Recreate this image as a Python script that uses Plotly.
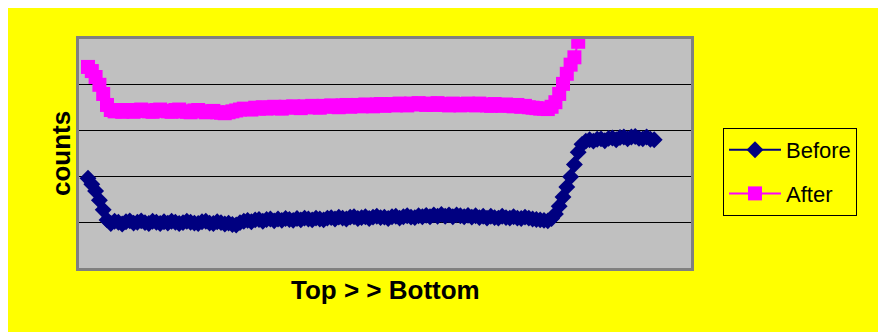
import plotly.graph_objects as go

# Sample position along the column, top to bottom
before_counts = [
    196, 183, 168, 148, 127, 105, 97, 102, 100, 96,
    101, 103, 98, 100, 103, 99, 97, 102, 100, 97,
    101, 98, 102, 100, 97, 99, 102, 100, 98, 97,
    101, 102, 98, 97, 101, 99, 96, 98, 95, 94,
    99, 102, 104, 101, 105, 106, 102, 106, 107, 103,
    107, 104, 108, 106, 104, 108, 105, 109, 107, 105,
    109, 107, 105, 109, 110, 107, 111, 109, 107, 111,
    112, 108, 110, 112, 108, 111, 113, 110, 111, 108,
    112, 113, 109, 112, 114, 111, 110, 114, 112, 115,
    112, 116, 113, 117, 113, 116, 112, 116, 114, 112,
    115, 111, 114, 110, 113, 109, 113, 110, 109, 113,
    110, 109, 112, 109, 108, 111, 109, 107, 106, 105,
    104, 103, 108, 118, 135, 155, 177, 199, 226, 253,
    270, 277, 280, 277, 281, 282, 278, 283, 284, 280,
    285, 286, 282, 286, 287, 283, 282, 286, 281, 280,
]

after_counts = [
    439, 430, 417, 400, 380, 356, 345, 342, 345, 341,
    344, 345, 341, 343, 346, 344, 342, 341, 345, 346,
    343, 342, 341, 345, 346, 342, 341, 340, 344, 345,
    342, 340, 341, 343, 340, 339, 338, 340, 342, 344,
    346, 348, 347, 346, 350, 348, 351, 348, 350, 352,
    349, 348, 352, 350, 353, 351, 349, 353, 351, 354,
    351, 350, 354, 352, 355, 353, 351, 355, 356, 352,
    354, 356, 353, 357, 355, 353, 357, 358, 354, 356,
    358, 355, 359, 357, 355, 359, 357, 360, 358, 356,
    359, 356, 360, 358, 356, 355, 359, 357, 355, 358,
    359, 356, 355, 359, 357, 355, 354, 358, 356, 354,
    357, 355, 353, 356, 352, 354, 351, 350, 349, 348,
    348, 347, 352, 362, 380, 402, 424, 444, 460, 494,
]

before_pos = list(range(len(before_counts)))
after_pos = list(range(len(after_counts)))

FONT = "Arial, Liberation Sans, sans-serif"
W, H = 878, 332
ML, MR, MT, MB = 79, 187, 39, 64
PW, PH = W - ML - MR, H - MT - MB


def px_x(p):
    return (p - ML) / PW


def px_y(p):
    return (H - MB - p) / PH


fig = go.Figure()
fig.add_trace(go.Scatter(
    x=before_pos, y=before_counts, name="Before", mode="lines+markers",
    line=dict(color="#000080", width=2),
    marker=dict(symbol="diamond", size=13, color="#000080"),
    legendgroup="b",
))
fig.add_trace(go.Scatter(
    x=after_pos, y=after_counts, name="After", mode="lines+markers",
    line=dict(color="#FF00FF", width=2),
    marker=dict(symbol="square", size=14, color="#FF00FF"),
    legendgroup="a",
))

shapes = [
    # white margin strips around the yellow panel
    dict(type="rect", xref="paper", yref="paper", layer="below",
         x0=px_x(0), x1=px_x(8), y0=px_y(H), y1=px_y(0),
         fillcolor="white", line=dict(width=0)),
    dict(type="rect", xref="paper", yref="paper", layer="below",
         x0=px_x(0), x1=px_x(W), y0=px_y(8), y1=px_y(0),
         fillcolor="white", line=dict(width=0)),
]

annotations = [
    dict(text="<b>counts</b>", textangle=-90, xref="paper", yref="paper",
         x=px_x(61), y=px_y(154), showarrow=False,
         font=dict(family=FONT, size=26, color="black"),
         xanchor="center", yanchor="middle"),
    dict(text="<b>Top > > Bottom</b>", xref="paper", yref="paper",
         x=px_x(385), y=px_y(290), showarrow=False,
         font=dict(family=FONT, size=26, color="black"),
         xanchor="center", yanchor="middle"),
]

fig.update_layout(
    width=W, height=H,
    margin=dict(l=ML, r=MR, t=MT, b=MB, pad=0),
    paper_bgcolor="#FFFF00",
    plot_bgcolor="#C0C0C0",
    font=dict(family=FONT, color="black"),
    showlegend=True,
    legend=dict(
        x=px_x(723), y=px_y(128), xanchor="left", yanchor="top",
        bgcolor="#FFFF00", bordercolor="#000000", borderwidth=1,
        font=dict(family=FONT, size=22, color="black"),
        tracegroupgap=12, itemwidth=52,
    ),
    shapes=shapes,
    annotations=annotations,
    xaxis=dict(
        range=[(ML - 88) / 3.8, (ML + PW - 88) / 3.8],
        showgrid=False, zeroline=False, showticklabels=False, ticks="",
        showline=True, linewidth=3, linecolor="#808080", mirror=True,
    ),
    yaxis=dict(
        range=[0, 500], dtick=100, showgrid=True, gridcolor="#000000",
        gridwidth=1, zeroline=False, showticklabels=False, ticks="",
        showline=True, linewidth=3, linecolor="#808080", mirror=True,
    ),
)

fig.write_html("out.html")
